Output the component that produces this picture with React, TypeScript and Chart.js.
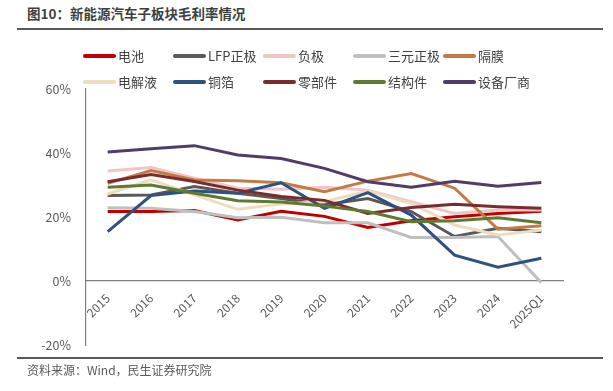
import React, { useEffect, useRef } from "react";
import { Chart, registerables } from "chart.js";

Chart.register(...registerables);

const categories = ["2015", "2016", "2017", "2018", "2019", "2020", "2021", "2022", "2023", "2024", "2025Q1"];

const seriesNames = ["电池", "LFP正极", "负极", "三元正极", "隔膜", "电解液", "铜箔", "零部件", "结构件", "设备厂商"];
const seriesColors = ["#C00000", "#595959", "#F2C4C6", "#BFBFBF", "#C27B45", "#EEDCBE", "#2F5182", "#7A2B2B", "#5E7A31", "#4F3C6B"];

const battery = [21.7, 21.7, 22.0, 19.1, 21.8, 20.2, 16.7, 18.8, 20.1, 21.1, 21.8];
const lfpCathode = [26.7, 26.9, 29.5, 27.4, 25.8, 23.8, 25.8, 21.7, 13.9, 16.5, 15.4];
const anode = [34.4, 35.5, 32.1, 29.0, 28.7, 29.3, 28.4, 24.8, 21.1, 22.2, 22.2];
const ternaryCathode = [22.9, 22.7, 21.7, 19.8, 19.9, 18.2, 18.2, 13.6, 13.6, 13.9, -0.5];
const separator = [30.5, 34.5, 31.6, 31.3, 30.7, 27.9, 31.2, 33.6, 29.0, 16.2, 17.3];
const electrolyte = [27.2, 31.6, 26.9, 22.4, 24.1, 24.8, 28.1, 24.3, 17.5, 14.4, 15.9];
const copperFoil = [15.4, 26.7, 28.1, 27.4, 30.7, 22.7, 27.6, 20.6, 8.1, 4.3, 7.1];
const parts = [31.0, 33.3, 31.1, 28.4, 26.4, 25.2, 21.1, 23.0, 24.0, 23.2, 22.7];
const structural = [29.3, 30.0, 27.4, 25.1, 24.7, 23.4, 21.7, 18.5, 18.8, 19.8, 18.2];
const equipment = [40.3, 41.3, 42.3, 39.4, 38.3, 35.2, 31.0, 29.3, 31.2, 29.6, 30.8];

const seriesValues = [battery, lfpCathode, anode, ternaryCathode, separator, electrolyte, copperFoil, parts, structural, equipment];

const yMin = -20;
const yMax = 60;
const yStep = 20;

const FONT = "'Noto Sans CJK SC', 'Noto Sans', sans-serif";

export default function App() {
  const canvasRef = useRef<HTMLCanvasElement | null>(null);

  useEffect(() => {
    if (!canvasRef.current) return;
    const chart = new Chart(canvasRef.current, {
      type: "line",
      data: {
        labels: categories,
        datasets: seriesNames.map((name, i) => ({
          label: name,
          data: seriesValues[i],
          borderColor: seriesColors[i],
          backgroundColor: seriesColors[i],
          borderWidth: 3,
          pointRadius: 0,
          tension: 0,
          fill: false,
          order: seriesNames.length - i,
        })),
      },
      options: {
        responsive: false,
        animation: false,
        layout: { padding: { left: 36, right: 50, top: 89, bottom: 46 } },
        plugins: {
          legend: { display: false },
          title: { display: false },
          tooltip: { enabled: false },
        },
        scales: {
          x: {
            position: { y: 0 } as any,
            offset: true,
            grid: { display: true, drawOnChartArea: false, drawTicks: false },
            border: { display: true, color: "#7F7F7F", width: 1.2 },
            ticks: {
              color: "#595959",
              font: { family: FONT, size: 12 },
              minRotation: 45,
              maxRotation: 45,
              padding: 10,
              autoSkip: false,
            },
            afterFit: (scale: any) => {
              scale.height = 0;
            },
          },
          y: {
            min: yMin,
            max: yMax,
            grid: { display: true, drawOnChartArea: false, drawTicks: false },
            border: { display: true, color: "#7F7F7F", width: 1.2 },
            ticks: {
              stepSize: yStep,
              color: "#595959",
              font: { family: FONT, size: 12.5 },
              padding: 15,
              callback: (v: any) => `${v}%`,
            },
            afterFit: (scale: any) => {
              scale.width = 50;
            },
          },
        },
      },
    });
    return () => chart.destroy();
  }, []);

  const legendRows = [seriesNames.slice(0, 5), seriesNames.slice(5, 10)];

  return (
    <div style={{ position: "absolute", left: 0, top: 0, width: 613, height: 391, background: "#fff", fontFamily: FONT }}>
      <div style={{ position: "absolute", left: 27, top: 3, fontSize: 13.5, fontWeight: 700, color: "#3F3F3F", lineHeight: "20px", whiteSpace: "nowrap" }}>
        图10：新能源汽车子板块毛利率情况
      </div>
      <div style={{ position: "absolute", left: 17, top: 28, width: 586, height: 2, background: "#595959" }} />
      <canvas ref={canvasRef} width={613} height={391} style={{ position: "absolute", left: 0, top: 0 }} />
      {legendRows.map((row, r) =>
        row.map((name, c) => {
          const idx = r * 5 + c;
          return (
            <div key={name} style={{ position: "absolute", left: 83 + c * 90, top: 56 + r * 26 - 10, height: 20, display: "flex", alignItems: "center", whiteSpace: "nowrap" }}>
              <div style={{ width: 33, height: 4, borderRadius: 2, background: seriesColors[idx] }} />
              <span style={{ marginLeft: 2, fontSize: 13, color: "#404040", lineHeight: "20px" }}>{name}</span>
            </div>
          );
        })
      )}
      <div style={{ position: "absolute", left: 17, top: 357, width: 586, height: 2, background: "#595959" }} />
      <div style={{ position: "absolute", left: 27, top: 362, fontSize: 12, color: "#595959", lineHeight: "16px", whiteSpace: "nowrap" }}>
        资料来源：Wind，民生证券研究院
      </div>
    </div>
  );
}
